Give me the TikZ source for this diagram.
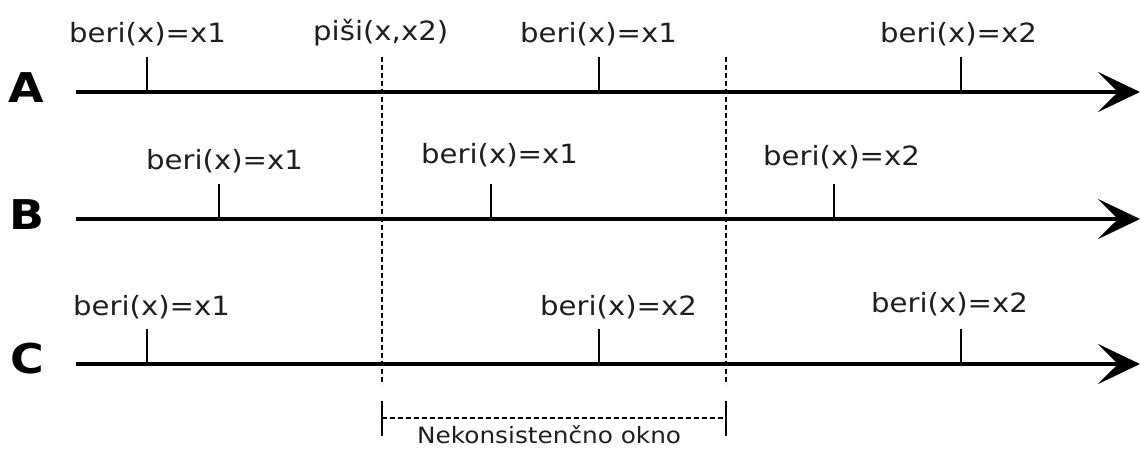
\documentclass[tikz,border=0pt]{standalone}
\usepackage{fontspec}
\usetikzlibrary{arrows.meta}
\newfontfamily\evtfont[FakeStretch=1.1]{DejaVu Sans}
\newfontfamily\rowfont[FakeStretch=1.12]{DejaVu Sans Bold}
\definecolor{ink}{HTML}{1E1E1E}
\begin{document}
\begin{tikzpicture}[x=1pt,y=-1pt,
  timeline/.style={line width=4pt,-{Stealth[length=42pt,width=40pt,inset=20pt]}},
  tick/.style={line width=1.6pt},
  window/.style={line width=1.2pt,dash pattern=on 5pt off 3pt},
  evt/.style={anchor=base west,inner sep=0pt,text=ink,font=\evtfont\fontsize{26.5}{30}\selectfont},
  rowlabel/.style={inner sep=0pt,font=\rowfont\fontsize{41}{46}\selectfont},
  note/.style={anchor=base west,inner sep=0pt,text=ink,font=\evtfont\fontsize{22.5}{26}\selectfont}]
\useasboundingbox (0,0) rectangle (1141,448);

% row labels
\node[rowlabel] (lA) at (26,88) {A};
\node[rowlabel] (lB) at (27,214.5) {B};
\node[rowlabel] (lC) at (27,359) {C};

% time axes
\coordinate (sA) at (76,92);  \coordinate (eA) at (1140,92);
\coordinate (sB) at (76,219); \coordinate (eB) at (1140,219);
\coordinate (sC) at (76,364); \coordinate (eC) at (1140,364);
\draw[timeline] (sA) -- (eA);
\draw[timeline] (sB) -- (eB);
\draw[timeline] (sC) -- (eC);

% boundaries of the inconsistency window
\coordinate (w1t) at (382,57); \coordinate (w1b) at (382,385);
\coordinate (w2t) at (726,57); \coordinate (w2b) at (726,385);
\draw[window] (w1t) -- (w1b);
\draw[window] (w2t) -- (w2b);

% ticks on axis A
\coordinate (tA1) at (147,92);  \coordinate (tA1u) at (147,57);
\coordinate (tA2) at (599,92);  \coordinate (tA2u) at (599,57);
\coordinate (tA3) at (961,92);  \coordinate (tA3u) at (961,57);
% ticks on axis B
\coordinate (tB1) at (219,219); \coordinate (tB1u) at (219,184);
\coordinate (tB2) at (491,219); \coordinate (tB2u) at (491,184);
\coordinate (tB3) at (834,219); \coordinate (tB3u) at (834,184);
% ticks on axis C
\coordinate (tC1) at (147,364); \coordinate (tC1u) at (147,329);
\coordinate (tC2) at (599,364); \coordinate (tC2u) at (599,329);
\coordinate (tC3) at (961,364); \coordinate (tC3u) at (961,329);
\foreach \t in {A1,A2,A3,B1,B2,B3,C1,C2,C3}
  \draw[tick] (t\t) -- (t\t u);

% event labels
\node[evt] (a1) at (69,42)  {beri(x)=x1};
\node[evt] (aw) at (313,40) {piši(x,x2)};
\node[evt] (a2) at (520,42) {beri(x)=x1};
\node[evt] (a3) at (880,42) {beri(x)=x2};

\node[evt] (b1) at (146,169) {beri(x)=x1};
\node[evt] (b2) at (421,163) {beri(x)=x1};
\node[evt] (b3) at (763,165) {beri(x)=x2};

\node[evt] (c1) at (73,315)  {beri(x)=x1};
\node[evt] (c2) at (540,315) {beri(x)=x2};
\node[evt] (c3) at (871,312.5) {beri(x)=x2};

% span of the window
\coordinate (k1t) at (382,401); \coordinate (k1b) at (382,436);
\coordinate (k2t) at (726,401); \coordinate (k2b) at (726,436);
\coordinate (k1m) at (382,418); \coordinate (k2m) at (726,418);
\draw[tick,line width=1.3pt] (k1t) -- (k1b);
\draw[tick,line width=1.3pt] (k2t) -- (k2b);
\draw[window] (k1m) -- (k2m);
\node[note] (nk) at (417,443) {Nekonsistenčno okno};
\end{tikzpicture}
\end{document}
